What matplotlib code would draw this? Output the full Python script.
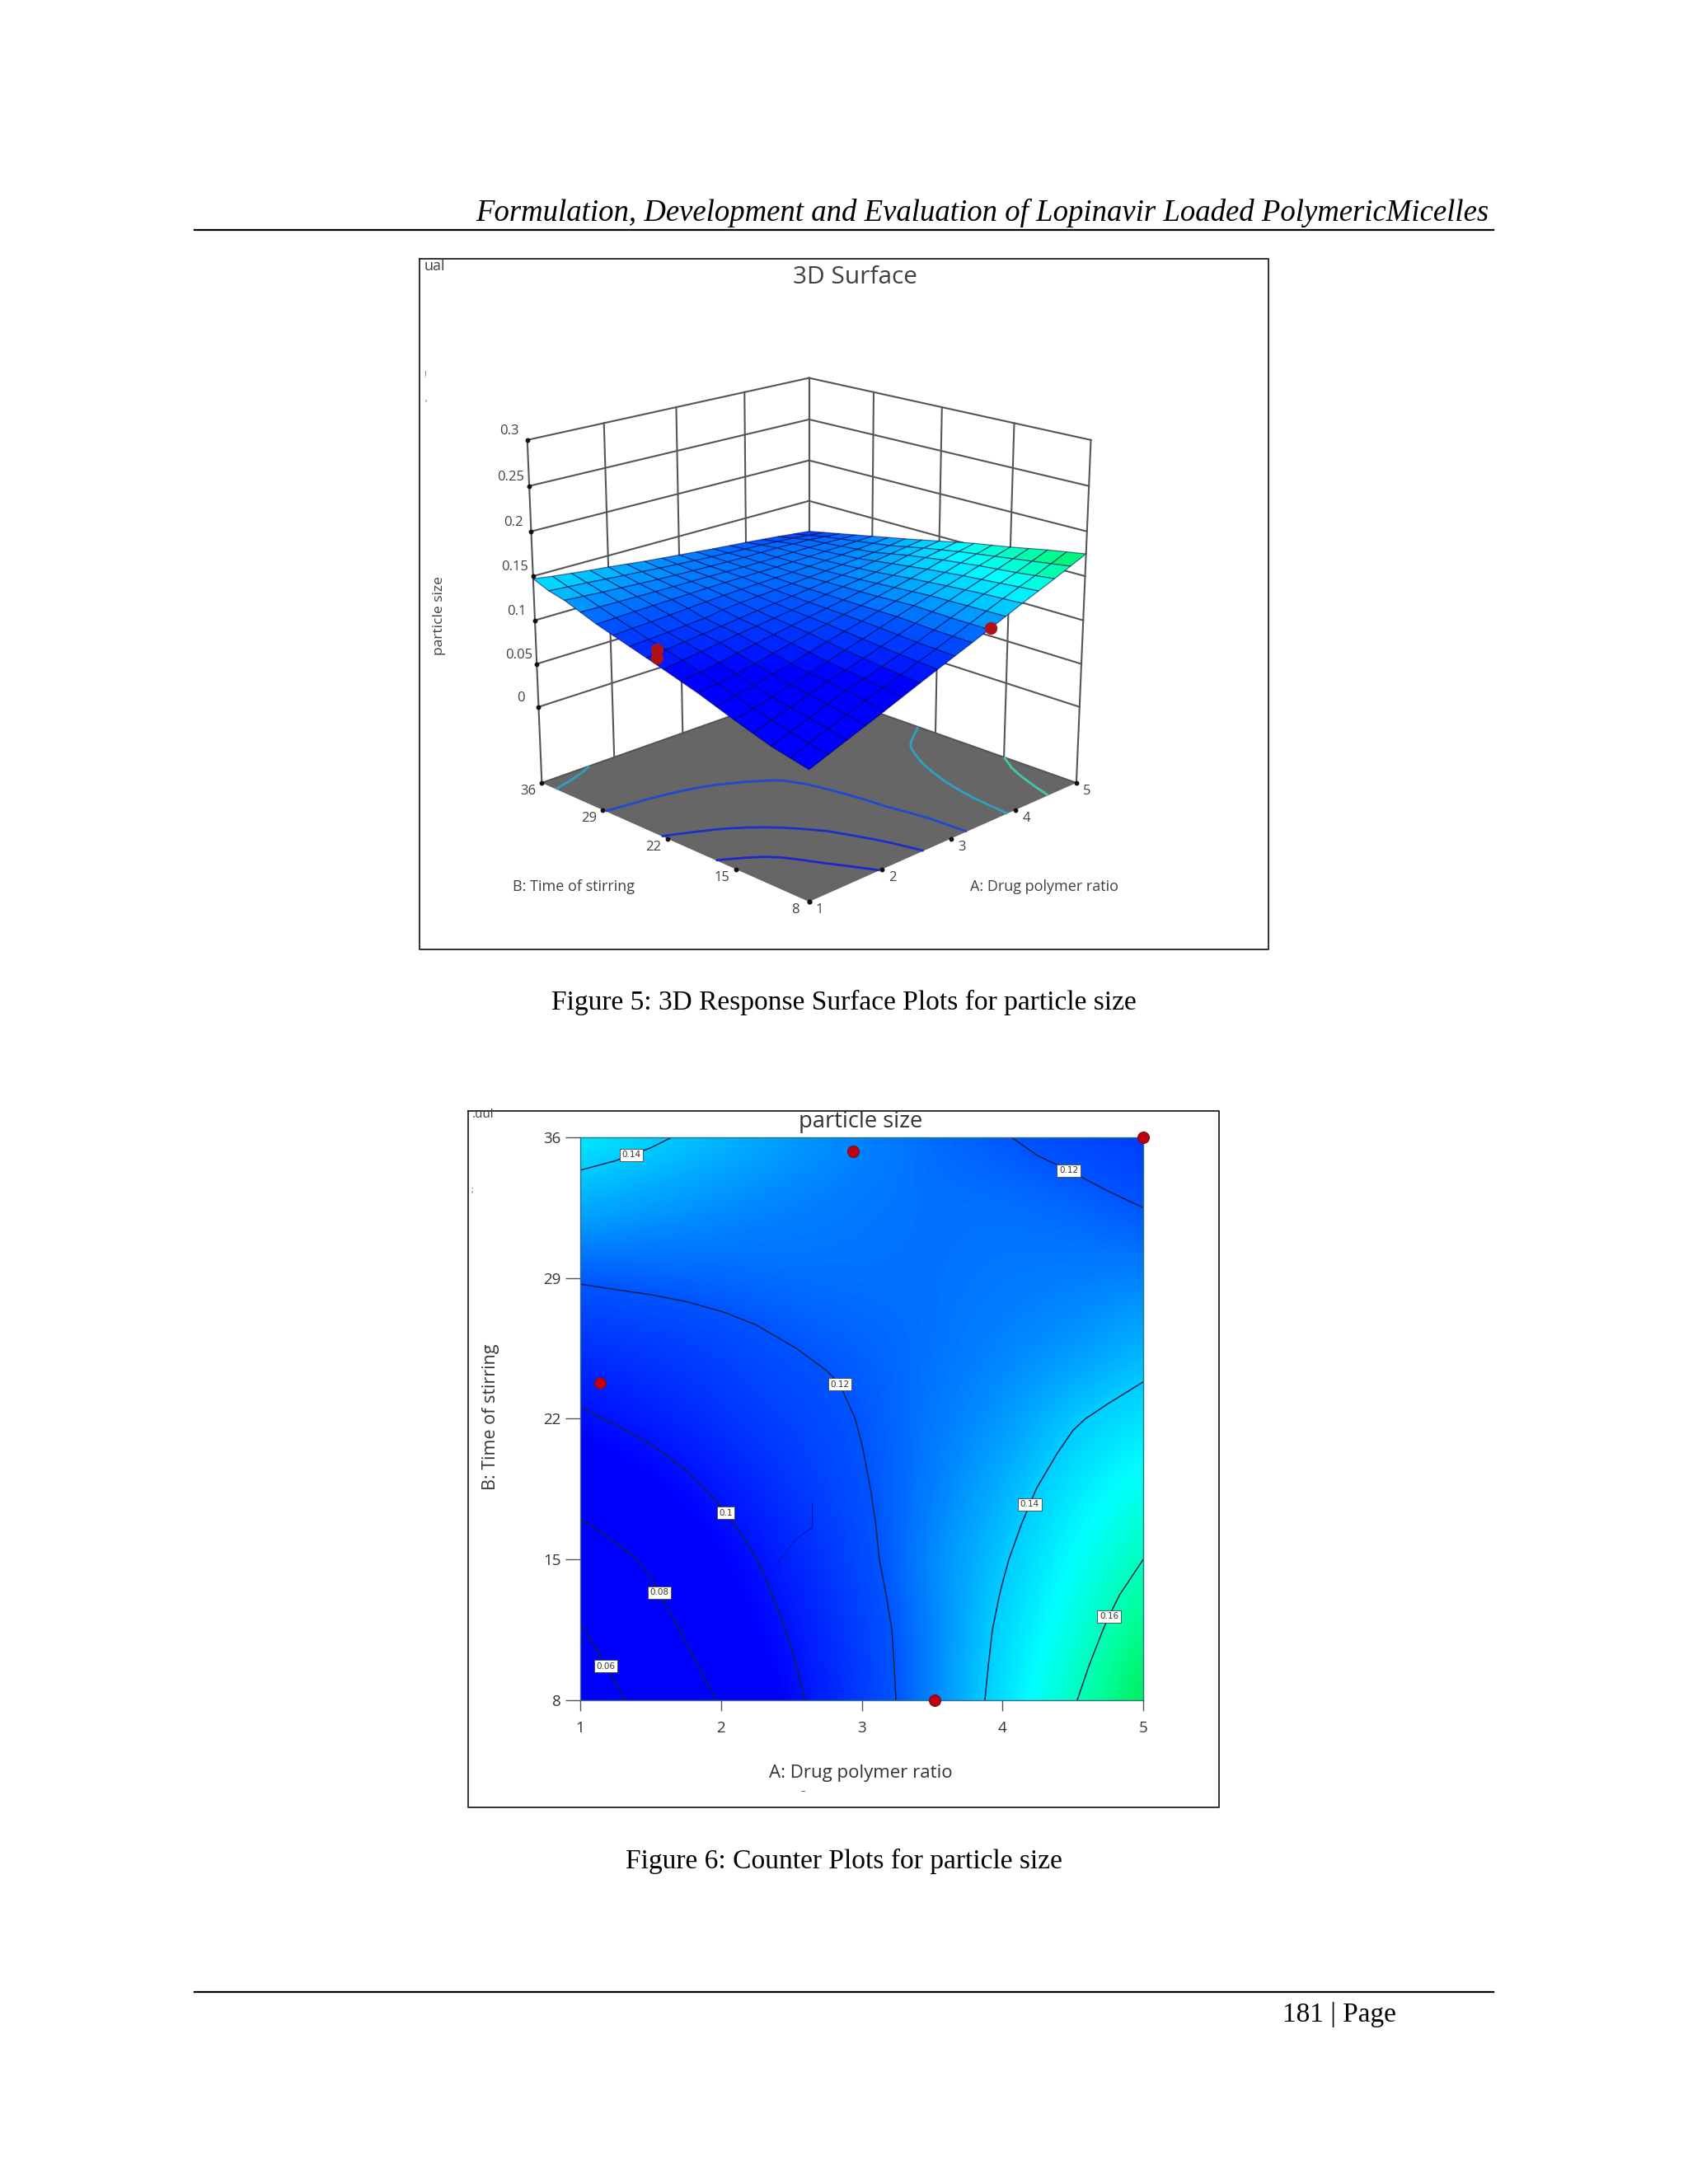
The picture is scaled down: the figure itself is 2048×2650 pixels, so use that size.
import numpy as np
import matplotlib
matplotlib.use("Agg")
import matplotlib.pyplot as plt
from matplotlib.colors import LinearSegmentedColormap
from mpl_toolkits.mplot3d import proj3d

# values, in units of 0.001 (rows: time of stirring)
ratio = [1, 1.25, 1.5, 1.75, 2, 2.25, 2.5, 2.75, 3, 3.25, 3.5, 3.75, 4, 4.25, 4.5, 4.75, 5]
stir = [8, 9.75, 11.5, 13.25, 15, 16.75, 18.5, 20.25, 22, 23.75, 25.5, 27.25, 29, 30.75, 32.5, 34.25, 36]
size_milli = [
    [50, 57.8, 65.6, 73.3, 81, 89, 97, 104.8, 112.5, 120.2, 128, 136, 144, 151.5, 159, 167, 175],
    [54.5, 62.2, 69.8, 77.4, 85, 92, 99, 106.2, 113.2, 120.6, 128, 135.5, 143, 149.8, 156.5, 164, 171.5],
    [59, 66.5, 74, 81.5, 89, 95, 101, 107.5, 114, 121, 128, 135, 142, 148, 154, 161, 168],
    [65.5, 71.8, 78, 84.8, 91.5, 97.4, 103.2, 109.4, 115.5, 122, 128.5, 134.5, 140.5, 146.2, 152, 158, 164],
    [72, 77, 82, 88, 94, 99.8, 105.5, 111.2, 117, 123, 129, 134, 139, 144.5, 150, 155, 160],
    [79, 83.2, 87.5, 92.8, 98, 103.2, 108.2, 113.1, 118, 123, 128, 132.6, 137.2, 142.4, 147.5, 152, 156.5],
    [86, 89.5, 93, 97.5, 102, 106.5, 111, 115, 119, 123, 127, 131.2, 135.5, 140.2, 145, 149, 153],
    [92, 95.2, 98.5, 102.2, 106, 109.5, 113, 116.4, 119.8, 123.1, 126.5, 129.8, 133.2, 137.6, 142, 145.4, 148.8],
    [98, 101, 104, 107, 110, 112.5, 115, 117.8, 120.5, 123.2, 126, 128.5, 131, 135, 139, 141.8, 144.5],
    [103.8, 105.9, 108, 110.2, 112.5, 114.8, 117.2, 119.3, 121.2, 123.4, 125.5, 127.5, 129.5, 132.2, 135, 137.6, 140.2],
    [109.5, 110.8, 112, 113.5, 115, 118, 119.8, 121.2, 122.4, 123.6, 125, 126.5, 128, 129.5, 131, 133.5, 136],
    [115.2, 116.3, 117.2, 118.5, 119.8, 121, 122.2, 123, 123.7, 124.3, 125, 126, 127, 128, 129, 130.5, 132],
    [121, 121.8, 122.5, 123, 123.5, 124, 124.5, 124.8, 125, 125, 125, 125.5, 126, 126.5, 127, 127.5, 128],
    [128, 127.6, 127.2, 126.9, 126.5, 126.2, 126, 125.8, 125.5, 125.2, 125, 125.2, 125.5, 125.4, 125.2, 124.6, 124],
    [135, 133.5, 132, 130.8, 129.5, 128.5, 127.5, 126.8, 126, 125.5, 125, 125, 125, 124.2, 123.5, 121.8, 120],
    [139.5, 138, 136.5, 134.8, 133, 131.5, 129.8, 128.4, 127, 125.8, 124.5, 123.6, 122.8, 121.4, 120, 118, 116],
    [147, 144, 141.5, 139, 137, 134.5, 132, 130, 128, 126, 124, 122.2, 120.5, 118.5, 116.5, 114.2, 112],
]
# design points
pts_ratio = [1.14, 1.14, 2.94, 3.52, 5]
pts_stir = [23.8, 23.8, 35.3, 8, 36]
pts_size = [0.100, 0.109, 0.115, 0.129, 0.100]

ratio_ticks = [1, 2, 3, 4, 5]
stir_ticks = [8, 15, 22, 29, 36]
size_ticks = [0, 0.05, 0.1, 0.15, 0.2, 0.25, 0.3]
size_tick_labels = ["0", "0.05", "0.1", "0.15", "0.2", "0.25", "0.3"]
contour_levels = [0.06, 0.08, 0.1, 0.12, 0.14, 0.16]
contour_names = {0.06: "0.06", 0.08: "0.08", 0.1: "0.1", 0.12: "0.12", 0.14: "0.14", 0.16: "0.16"}
floor_levels = [0.08, 0.1, 0.12, 0.14, 0.16]
floor_colors = ["#1c28c8", "#1c30c8", "#2048d0", "#2f9fc4", "#3fc8ac"]
glitch_ratio = [2.65, 2.65, 2.53, 2.41]
glitch_stir = [17.8, 16.6, 16.0, 14.9]

W, H = 2048, 2650
Z_FLOOR = -0.09
serif = "Liberation Serif"
sans = "Open Sans"
grey = "#404040"

cmap = LinearSegmentedColormap.from_list("rsm", [
    (0.0, (0, 0, 1)), (0.36, (0, 0, 1)), (0.56, (0, 0.33, 1)),
    (0.72, (0, 0.8, 1)), (0.80, (0, 1, 1)), (0.92, (0, 1, 0.6)), (1.0, (0, 0.93, 0.35))])

X, Y = np.meshgrid(ratio, stir)
Z = np.array(size_milli) / 1000

fig = plt.figure(figsize=(W / 100, H / 100), dpi=100)

# page furniture in pixel coordinates
page = fig.add_axes([0, 0, 1, 1])
page.set_xlim(0, W)
page.set_ylim(H, 0)
page.axis("off")
page.plot([236, 1812], [279, 279], color="black", lw=1.6)
page.plot([236, 1812], [2417, 2417], color="black", lw=1.6)
page.plot([509, 1539, 1539, 509, 509], [314, 314, 1152, 1152, 314], color="#222222", lw=1.3)
page.plot([568, 1479, 1479, 568, 568], [1348, 1348, 2193, 2193, 1348], color="#222222", lw=1.3)
page.text(1192, 258, "Formulation, Development and Evaluation of Lopinavir Loaded PolymericMicelles",
          family=serif, style="italic", size=26.5, ha="center", va="center")
page.text(1024, 1216, "Figure 5: 3D Response Surface Plots for particle size",
          family=serif, size=24.1, ha="center", va="center")
page.text(1024, 2258, "Figure 6: Counter Plots for particle size",
          family=serif, size=24.1, ha="center", va="center")
page.text(1625, 2445, "181 | Page", family=serif, size=24, ha="center", va="center")

page.text(1038, 337, "3D Surface", family=sans, size=21.5, color=grey, ha="center", va="center")
page.text(527, 323, "ual", family=sans, size=13, color=grey, ha="center", va="center")
page.text(516, 456, "!", family=sans, size=7, color="#c05050", ha="center", va="center")
page.text(516, 490, "'", family=sans, size=7, color=grey, ha="center", va="center")
page.text(1267, 1076, "A: Drug polymer ratio", family=sans, size=13, color=grey, ha="center", va="center")
page.text(696, 1076, "B: Time of stirring", family=sans, size=13, color=grey, ha="center", va="center")
page.text(533, 747, "particle size", family=sans, size=12.5, color=grey, rotation=90, ha="center", va="center")

page.text(1044, 1361, "particle size", family=sans, size=19.7, color="#333333", ha="center", va="center")
page.text(586, 1352, ".uul", family=sans, size=11, color=grey, ha="center", va="center")
page.text(573, 1445, ";", family=sans, size=7, color=grey, ha="center", va="center")
page.text(975, 2174, "--", family=sans, size=7, color=grey, ha="center", va="center")
page.text(1044, 2151, "A: Drug polymer ratio", family=sans, size=16, color="#333333", ha="center", va="center")
page.text(595, 1719, "B: Time of stirring", family=sans, size=15.5, color="#333333", rotation=90, ha="center", va="center")

# 3D surface
side = 786
ax3 = fig.add_axes([(971 - side / 2) / W, 1 - (758 + side / 2) / H, side / W, side / H], projection="3d")
ax3.patch.set_alpha(0)
ax3.computed_zorder = False
ax3.set_proj_type("persp", focal_length=0.63)
ax3.view_init(elev=18.8, azim=-135)
ax3.set_box_aspect((1, 1, 0.933), zoom=0.985)
ax3.set_xlim(1, 5, view_margin=0)
ax3.set_ylim(8, 36, view_margin=0)
ax3.set_zlim(Z_FLOOR, 0.3, view_margin=0)
ax3.set_xticks([])
ax3.set_yticks([])
ax3.set_zticks([])
ax3.grid(False)
for axis in (ax3.xaxis, ax3.yaxis):
    axis.set_pane_color((1, 1, 1, 1))
    axis.pane.set_edgecolor("none")
    axis.line.set_color("none")
ax3.zaxis.set_pane_color("#666666")
ax3.zaxis.pane.set_edgecolor("none")
ax3.zaxis.line.set_color("none")

wall = dict(color="#555555", lw=1.5, zorder=1)
for z in size_ticks + [Z_FLOOR]:
    ax3.plot([1, 5], [36, 36], [z, z], **wall)
    ax3.plot([5, 5], [36, 8], [z, z], **wall)
for a in ratio_ticks:
    ax3.plot([a, a], [36, 36], [Z_FLOOR, 0.3], **wall)
for b in stir_ticks:
    ax3.plot([5, 5], [b, b], [Z_FLOOR, 0.3], **wall)
ax3.contour(X, Y, Z, levels=floor_levels, colors=floor_colors, linewidths=2, zdir="z", offset=Z_FLOOR, zorder=2)
ax3.plot(pts_ratio[2:3] + pts_ratio[4:], pts_stir[2:3] + pts_stir[4:], pts_size[2:3] + pts_size[4:],
         ls="none", marker="o", ms=10, color="#b01018", zorder=2.5)
ax3.plot_surface(X, Y, Z, rstride=1, cstride=1, cmap=cmap, vmin=0.05, vmax=0.175, shade=False,
                 edgecolor=(0, 0, 0.3, 0.55), linewidth=0.9, zorder=3)
ax3.plot(pts_ratio[:2] + pts_ratio[3:4], pts_stir[:2] + pts_stir[3:4], pts_size[:2] + pts_size[3:4],
         ls="none", marker="o", ms=10, color="#b01018", zorder=4)

# tick dots and their labels
dots = dict(ls="none", marker="o", ms=3.2, color="#111111", zorder=5)
ax3.plot([1] * len(size_ticks), [36] * len(size_ticks), size_ticks, **dots)
ax3.plot(ratio_ticks, [8] * 5, [Z_FLOOR] * 5, **dots)
ax3.plot([1] * 5, stir_ticks, [Z_FLOOR] * 5, **dots)
M = ax3.get_proj()


def tick_label(x, y, z, s, dx, dy):
    xp, yp, _ = proj3d.proj_transform(x, y, z, M)
    ax3.annotate(s, (xp, yp), xytext=(dx * 0.72, -dy * 0.72), textcoords="offset points", family=sans,
                 size=12, color=grey, ha="center", va="center", annotation_clip=False)


for z, s in zip(size_ticks, size_tick_labels):
    tick_label(1, 36, z, s, -22, -11)
for a in ratio_ticks:
    tick_label(a, 8, Z_FLOOR, str(a), 13, 10)
for b in stir_ticks:
    tick_label(1, b, Z_FLOOR, str(b), -17, 10)

# contour plot
ax2 = fig.add_axes([704 / W, 1 - 2063 / H, (1387 - 704) / W, (2063 - 1380) / H])
ax2.imshow(Z, origin="lower", extent=[0.875, 5.125, 7.125, 36.875], aspect="auto", cmap=cmap,
           vmin=0.05, vmax=0.175, interpolation="bicubic")
cs = ax2.contour(X, Y, Z, levels=contour_levels, colors="#12224e", linewidths=1.1)
label_spots = [(1.16, 9.6), (1.55, 13.3), (2.05, 17.4), (2.84, 23.7), (4.46, 34.2), (1.35, 35.4), (4.21, 17.7), (4.75, 12.2)]
labels = ax2.clabel(cs, fmt=contour_names, manual=label_spots, fontsize=7.5, inline=False, colors="#333333")
for t in labels:
    t.set_rotation(0)
    t.set_bbox(dict(facecolor="white", edgecolor="#444444", boxstyle="square,pad=0.25", lw=0.6))
ax2.plot(glitch_ratio, glitch_stir, color="#0a18c8", lw=1)
ax2.plot(pts_ratio[1:], pts_stir[1:], ls="none", marker="o", ms=10, mfc="#c00010", mec="#701018", mew=0.8,
         clip_on=False, zorder=5)
ax2.set_xlim(1, 5)
ax2.set_ylim(8, 36)
ax2.set_xticks(ratio_ticks)
ax2.set_yticks(stir_ticks)
ax2.tick_params(axis="x", length=9, width=1, color="#555555", labelsize=13.5, labelcolor="#333333", pad=9)
ax2.tick_params(axis="y", length=13, width=1, color="#555555", labelsize=13.5, labelcolor="#333333", pad=4)
for label in ax2.get_xticklabels() + ax2.get_yticklabels():
    label.set_family(sans)
for spine in ax2.spines.values():
    spine.set_color("#2f6f80")
    spine.set_linewidth(1)

fig.savefig("out.png", dpi=100)
